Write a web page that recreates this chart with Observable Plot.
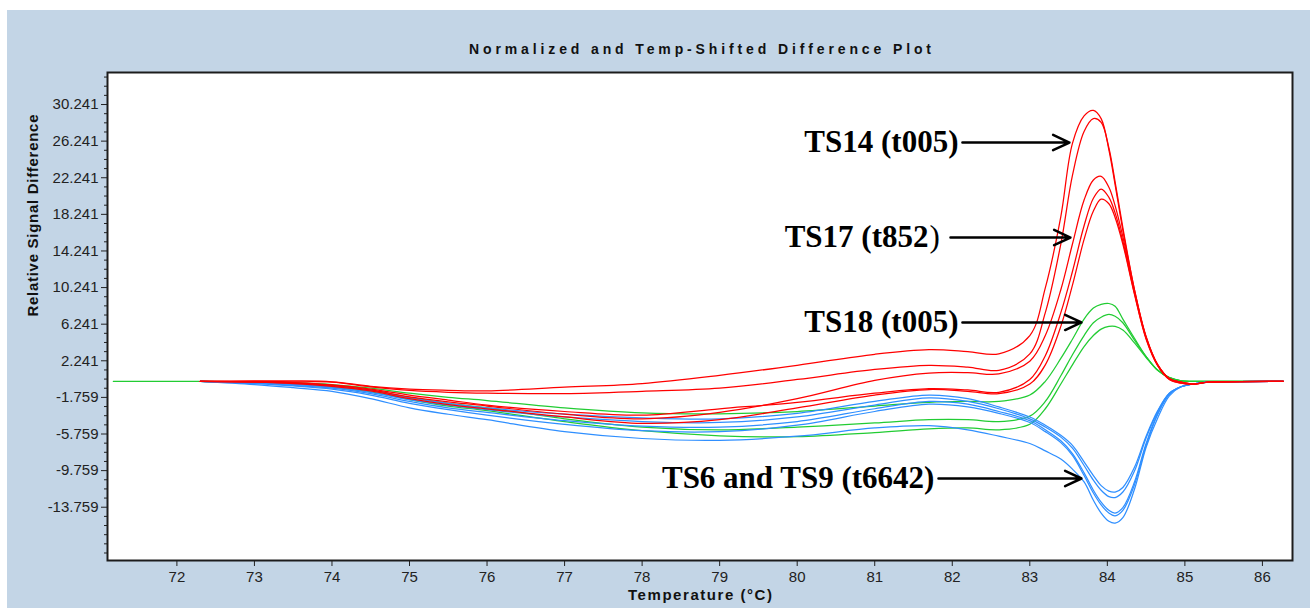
<!DOCTYPE html>
<html>
<head>
<meta charset="utf-8">
<script src="https://cdn.jsdelivr.net/npm/d3@7"></script>
<script src="https://cdn.jsdelivr.net/npm/@observablehq/plot@0.6"></script>
<style>
  html, body { margin: 0; padding: 0; background: #ffffff; }
  #panel { position: absolute; left: 7px; top: 10px; width: 1303px; height: 598px; background: #C3D5E6; }
  #chart { position: absolute; left: 0; top: 0; }
</style>
</head>
<body>
<div id="panel"></div>
<div id="chart"></div>
<script>
// Temperature grid (°C) shared by every melt-difference trace
const temps = [71.18, 72.3, 73.0, 73.5, 74.0, 74.5, 75.0, 75.5, 76.0, 77.0, 78.0, 79.0, 80.0, 81.0, 81.7, 82.2, 82.6,
  83.0, 83.2, 83.4, 83.55, 83.7, 83.82, 83.92, 84.02, 84.1, 84.2, 84.35, 84.5, 84.65, 84.8, 84.95, 85.1, 85.3, 86.27];

// TS14 (t005) – red, highest peaks
const ts14a = [null, 0, 0.05, 0.05, -0.05, -0.55, -0.85, -0.98, -1.05, -0.65, -0.25, 0.65, 1.75, 2.95, 3.45, 3.25, 3.0,
  5.0, 10.2, 18.0, 26.0, 29.0, 29.6, 28.7, 25.3, 21.5, 16.5, 10.0, 4.8, 1.8, 0.3, -0.1, -0.3, -0.1, 0];
const ts14b = [null, 0, 0, -0.05, -0.1, -0.6, -1.0, -1.2, -1.3, -1.35, -1.1, -0.75, 0.2, 1.3, 1.75, 1.55, 1.2,
  3.0, 7.5, 15.0, 22.5, 27.3, 28.7, 28.3, 25.5, 21.8, 16.8, 10.0, 4.9, 1.8, 0.3, -0.1, -0.3, -0.1, 0];
// TS17 (t852) – red, lower peaks
const ts17a = [null, 0, -0.05, -0.2, -0.45, -0.95, -1.7, -2.25, -2.7, -3.6, -4.1, -3.4, -1.9, 0.1, 0.9, 0.95, 0.8,
  2.2, 5.0, 10.0, 15.0, 19.8, 22.0, 22.4, 21.2, 19.2, 15.8, 9.8, 4.8, 1.8, 0.3, -0.1, -0.3, -0.1, 0];
const ts17b = [null, 0, -0.05, -0.15, -0.4, -0.85, -1.5, -2.05, -2.6, -3.3, -3.7, -3.0, -2.3, -1.3, -0.8, -0.95, -1.2,
  0.2, 2.8, 7.5, 12.0, 17.0, 20.0, 21.0, 20.1, 18.4, 15.3, 9.6, 4.7, 1.7, 0.2, -0.2, -0.3, -0.1, 0];
const ts17c = [null, 0, -0.1, -0.25, -0.55, -1.05, -1.9, -2.55, -3.0, -3.9, -4.6, -4.2, -2.9, -1.5, -0.9, -1.1, -1.35,
  -0.3, 1.8, 6.0, 10.5, 15.5, 18.6, 19.9, 19.4, 17.9, 15.0, 9.5, 4.6, 1.7, 0.2, -0.2, -0.3, -0.1, 0];
// TS18 (t005) – green
const ts18a = [0, 0, -0.05, -0.15, -0.35, -0.75, -1.3, -1.75, -2.1, -2.9, -3.45, -3.55, -3.3, -2.7, -2.3, -2.2, -2.2,
  -1.5, 0.0, 2.5, 4.6, 6.8, 8.0, 8.4, 8.5, 8.2, 6.8, 4.7, 2.7, 1.2, 0.4, 0.05, 0, 0, 0];
const ts18b = [null, 0, -0.1, -0.25, -0.5, -1.0, -1.75, -2.4, -2.9, -4.1, -5.0, -5.3, -5.0, -4.55, -4.2, -4.2, -4.4,
  -3.8, -2.2, 0.6, 2.9, 5.0, 6.4, 7.0, 7.3, 7.1, 6.4, 4.5, 2.7, 1.2, 0.4, 0.05, 0, 0, 0];
const ts18c = [null, 0, -0.15, -0.3, -0.65, -1.15, -2.0, -2.7, -3.2, -4.4, -5.4, -5.95, -6.05, -5.6, -5.2, -5.1, -5.3,
  -4.7, -3.0, -0.3, 1.8, 3.8, 5.0, 5.7, 6.0, 6.0, 5.6, 4.2, 2.6, 1.2, 0.4, 0.05, 0, 0, 0];
// TS6 and TS9 (t6642) – blue troughs
const ts6a = [null, 0, -0.1, -0.3, -0.55, -1.05, -1.8, -2.4, -2.9, -3.6, -4.0, -4.1, -3.5, -2.2, -1.5, -1.9, -2.8,
  -3.9, -4.8, -5.9, -7.0, -8.8, -10.3, -11.4, -12.0, -12.1, -11.6, -9.4, -6.0, -3.2, -1.3, -0.6, -0.3, -0.1, 0];
const ts6b = [null, 0, -0.15, -0.35, -0.65, -1.2, -2.0, -2.6, -3.1, -3.9, -4.4, -4.5, -3.9, -2.6, -1.8, -2.2, -3.0,
  -4.1, -5.0, -6.1, -7.3, -9.2, -10.8, -11.9, -12.6, -12.7, -12.1, -9.8, -6.2, -3.3, -1.3, -0.6, -0.3, -0.1, 0];
const ts9a = [null, 0, -0.2, -0.45, -0.75, -1.35, -2.2, -2.9, -3.4, -4.3, -4.9, -5.0, -4.4, -3.0, -2.2, -2.5, -3.3,
  -4.3, -5.3, -6.5, -7.9, -10.0, -11.9, -13.2, -14.1, -14.4, -13.8, -11.0, -6.8, -3.5, -1.4, -0.6, -0.3, -0.1, 0];
const ts9b = [null, 0, -0.25, -0.5, -0.85, -1.5, -2.4, -3.1, -3.7, -4.7, -5.4, -5.5, -4.8, -3.3, -2.5, -2.8, -3.5,
  -4.5, -5.5, -6.7, -8.1, -10.3, -12.2, -13.5, -14.4, -14.7, -14.1, -11.3, -7.0, -3.6, -1.4, -0.6, -0.3, -0.1, 0];
const ts9c = [null, 0, -0.35, -0.7, -1.1, -1.9, -2.9, -3.6, -4.2, -5.5, -6.25, -6.45, -6.0, -5.1, -4.85, -5.3, -6.0,
  -6.8, -7.6, -8.5, -9.6, -11.0, -13.0, -14.4, -15.3, -15.5, -14.9, -11.8, -7.2, -4.0, -1.6, -0.6, -0.3, -0.1, 0];

// Axis tick values
const yTicks = [30.241, 26.241, 22.241, 18.241, 14.241, 10.241, 6.241, 2.241, -1.759, -5.759, -9.759, -13.759];
const yMinorTicks = [33.241, 32.241, 31.241, 29.241, 28.241, 27.241, 25.241, 24.241, 23.241, 21.241, 20.241, 19.241,
  17.241, 16.241, 15.241, 13.241, 12.241, 11.241, 9.241, 8.241, 7.241, 5.241, 4.241, 3.241, 1.241, 0.241, -0.759,
  -2.759, -3.759, -4.759, -6.759, -7.759, -8.759, -10.759, -11.759, -12.759, -14.759, -15.759, -16.759, -17.759, -18.759];
const xTicks = [72, 73, 74, 75, 76, 77, 78, 79, 80, 81, 82, 83, 84, 85, 86];

// Text
const titleText = "Normalized and Temp-Shifted Difference Plot";
const xLabel = "Temperature (°C)";
const yLabel = "Relative Signal Difference";

// Callouts: label text, label anchor, arrow start/end (data units)
const callouts = [
  {text: "TS14 (t005)", tx: 82.08, y: 26.09, x1: 82.131, x2: 83.511},
  {text: "TS17 (t852", tx: 81.693, y: 15.71, x1: 81.977, x2: 83.524},
  {text: "TS18 (t005)", tx: 82.08, y: 6.43, x1: 82.131, x2: 83.666},
  {text: "TS6 and TS9 (t6642)", tx: 81.77, y: -10.62, x1: 81.822, x2: 83.666}
];
const closingParen = [{text: ")", tx: 81.706, y: 15.71}];

const RED = "#ff0000", GREEN = "#22cc33", BLUE = "#2f8fff";

const series = [
  {name: "TS18 a", color: GREEN, values: ts18a},
  {name: "TS18 b", color: GREEN, values: ts18b},
  {name: "TS18 c", color: GREEN, values: ts18c},
  {name: "TS6 a", color: BLUE, values: ts6a},
  {name: "TS6 b", color: BLUE, values: ts6b},
  {name: "TS9 a", color: BLUE, values: ts9a},
  {name: "TS9 b", color: BLUE, values: ts9b},
  {name: "TS9 c", color: BLUE, values: ts9c},
  {name: "TS14 a", color: RED, values: ts14a},
  {name: "TS14 b", color: RED, values: ts14b},
  {name: "TS17 a", color: RED, values: ts17a},
  {name: "TS17 b", color: RED, values: ts17b},
  {name: "TS17 c", color: RED, values: ts17c}
];

const rowsFor = (color) => series.filter(s => s.color === color).flatMap(s =>
  temps.map((t, i) => ({temp: t, diff: s.values[i], name: s.name})).filter(d => d.diff != null));

const lineOpts = {x: "temp", y: "diff", z: "name", strokeWidth: 1.25, curve: "catmull-rom"};

const chart = Plot.plot({
  width: 1310,
  height: 608,
  marginLeft: 107,
  marginRight: 18,
  marginTop: 72,
  marginBottom: 48,
  x: {domain: [71.105, 86.388]},
  y: {domain: [-19.58, 33.74]},
  style: {background: "transparent", fontFamily: "'Liberation Sans', Arial, sans-serif", fontSize: "15px", color: "#222", overflow: "visible"},
  marks: [
    Plot.frame({fill: "white", stroke: null}),
    Plot.axisY(yMinorTicks, {tickSize: 3, tickFormat: () => "", label: null}),
    Plot.axisY(yTicks, {tickSize: 6, tickPadding: 3, tickFormat: d => d.toFixed(3), label: null, fontSize: 15}),
    Plot.axisX(xTicks, {tickSize: 6, tickPadding: 5, tickFormat: d => String(d), label: null, fontSize: 15}),
    Plot.line(rowsFor(GREEN), {...lineOpts, stroke: GREEN}),
    Plot.line(rowsFor(BLUE), {...lineOpts, stroke: BLUE}),
    Plot.line(rowsFor(RED), {...lineOpts, stroke: RED}),
    Plot.frame({stroke: "#1c1c1c", strokeWidth: 2}),
    Plot.text([titleText], {frameAnchor: "top", dy: -23, lineAnchor: "middle", fontWeight: "bold", fontSize: 14, fill: "#111"}),
    Plot.text([xLabel], {frameAnchor: "bottom", dy: 35, lineAnchor: "middle", fontWeight: "bold", fontSize: 15, fill: "#111"}),
    Plot.text([yLabel], {frameAnchor: "left", dx: -74, rotate: -90, lineAnchor: "middle", fontWeight: "bold", fontSize: 15, fill: "#111"}),
    Plot.arrow(callouts, {x1: "x1", x2: "x2", y1: "y", y2: "y", stroke: "black", strokeWidth: 2.5, headLength: 10.8, headAngle: 50}),
    Plot.text(callouts, {x: "tx", y: "y", text: "text", textAnchor: "end", lineAnchor: "middle",
      fontFamily: "'Liberation Serif', 'Times New Roman', serif", fontWeight: "bold", fontSize: 31, fill: "black"}),
    Plot.text(closingParen, {x: "tx", y: "y", text: "text", textAnchor: "start", lineAnchor: "middle",
      fontFamily: "'Liberation Serif', 'Times New Roman', serif", fontWeight: "normal", fontSize: 31, fill: "black"})
  ]
});

// Stretch the spaced-out heading and axis titles to their set widths
const fitted = {[titleText]: 462, [xLabel]: 144, [yLabel]: 202};
for (const t of chart.querySelectorAll("text")) {
  const w = fitted[t.textContent];
  if (w) { t.setAttribute("textLength", w); t.setAttribute("lengthAdjust", "spacing"); }
}

document.getElementById("chart").appendChild(chart);
</script>
</body>
</html>
